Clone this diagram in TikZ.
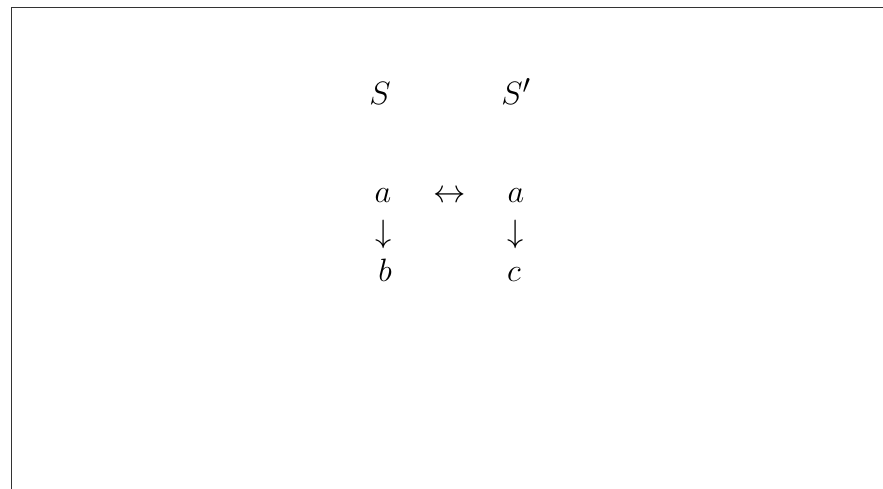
\documentclass[tikz,border=0pt]{standalone}
\begin{document}
\begin{tikzpicture}[x=1pt,y=1pt,
  lbl/.style={anchor=base,inner sep=0pt,font=\Huge,scale=1.3},
  frame/.style={draw=black!80,line width=1.6pt}]
\useasboundingbox (0,0) rectangle (883,489);
\draw[frame] (11.5,0) -- (11.5,481.5) -- (883,481.5);
\node[lbl] (S)  at (380,384) {$S$};
\node[lbl] (Sp) at (516,384) {$S'$};
\node[lbl] (a1) at (383,286) {$a$};
\node[lbl] (lr) at (450,286) {$\leftrightarrow$};
\node[lbl] (a2) at (516,286) {$a$};
\node[lbl] (d1) at (384,246) {$\downarrow$};
\node[lbl] (d2) at (516,246) {$\downarrow$};
\node[lbl] (b)  at (385,207) {$b$};
\node[lbl] (c)  at (514,207) {$c$};
\end{tikzpicture}
\end{document}
